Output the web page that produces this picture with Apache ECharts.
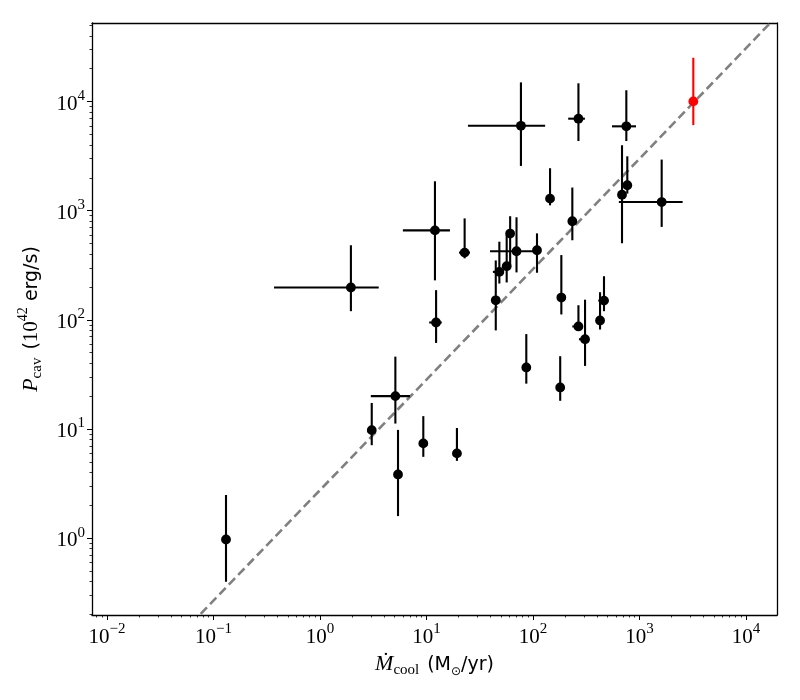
<!DOCTYPE html>
<html>
<head>
<meta charset="utf-8">
<script src="https://cdn.jsdelivr.net/npm/echarts@6/dist/echarts.min.js"></script>
<style>html,body{margin:0;padding:0;background:#fff}#c{width:800px;height:700px}</style>
</head>
<body>
<div id="c"></div>
<script>
// Cooling rate (Msun/yr) with lower/upper error limits
const mdot   = [0.131, 1.95, 3.06, 5.1, 5.4, 9.33, 19.3, 12.0, 12.3, 22.8, 77, 44.7, 48.3, 56.6, 61, 70, 109, 86.5, 144.5, 184.5, 180, 234, 267, 267, 308, 426, 464, 685, 768, 752, 1615, 3200];
const mdotLo = [0.131, 0.37, 2.85, 3.0, 5.4, 9.33, 19.3, 6.0, 10.6, 20.2, 24.5, 44.7, 42, 56.6, 61, 39.5, 109, 86.5, 144.5, 184.5, 180, 234, 214, 234, 270, 426, 410, 685, 768, 552, 640, 3200];
const mdotHi = [0.131, 3.56, 3.3, 7.0, 5.4, 9.33, 19.3, 16.6, 13.9, 25.6, 130, 44.7, 52, 56.6, 61, 119, 109, 86.5, 144.5, 184.5, 180, 234, 307, 285, 326, 426, 510, 685, 768, 927, 2540, 3200];
// Cavity power (1e42 erg/s) with lower/upper error limits
const pcav   = [0.97, 198, 9.75, 20, 3.83, 7.37, 5.97, 660, 94.5, 413, 6000, 151, 275, 310, 617, 425, 434, 36.6, 1290, 160, 24, 800, 6970, 86.9, 66.4, 98.6, 150, 1400, 1710, 5930, 1200, 10040];
const pcavLo = [0.398, 120, 7.1, 11.2, 1.59, 5.55, 5.1, 230, 61.4, 366, 2570, 80, 215, 220, 316, 272, 270, 26, 1120, 112, 18.1, 536, 4350, 80, 37.8, 81.5, 120, 503, 1435, 4350, 710, 6090];
const pcavHi = [2.48, 482, 17.3, 46, 9.8, 13.1, 10.2, 1860, 187, 850, 15000, 350, 520, 600, 890, 870, 620, 74, 2450, 392, 46.4, 1630, 14700, 136, 153, 179, 251, 3980, 3150, 12700, 2940, 25200];
const highlight = [0,0,0,0,0,0,0,0,0,0,0,0,0,0,0,0,0,0,0,0,0,0,0,0,0,0,0,0,0,0,0,1];
// relation line endpoints
const relX = [0.01, 30000];
const relY = [0.026, 93800];
// tick values
const xMajor = [0.01, 0.1, 1, 10, 100, 1000, 10000];
const yMajor = [1, 10, 100, 1000, 10000];

function minors(lo, hi) {
  const out = [];
  for (let k = -4; k <= 5; k++) for (let m = 2; m <= 9; m++) {
    const v = m * Math.pow(10, k);
    if (v > lo && v < hi) out.push(v);
  }
  return out;
}
const XMIN = Math.pow(10, -2.141), XMAX = Math.pow(10, 4.291);
const YMIN = Math.pow(10, -0.705), YMAX = Math.pow(10, 4.72);

const serif = 'Liberation Serif';
const sans = 'DejaVu Sans';
function powLabel(v) {
  const e = Math.round(Math.log10(v));
  return '{b|10}{s|' + (e < 0 ? '\u2212' + (-e) : e) + '}';
}
const labelRich = {
  b: {fontFamily: serif, fontSize: 21, color: '#000', lineHeight: 26, verticalAlign: 'bottom'},
  s: {fontFamily: serif, fontSize: 15, color: '#000', lineHeight: 14, verticalAlign: 'top'}
};

const pts = mdot.map((v, i) => [v, pcav[i], mdotLo[i], mdotHi[i], pcavLo[i], pcavHi[i], highlight[i]]);

const chart = echarts.init(document.getElementById('c'), null, {renderer: 'canvas'});
chart.setOption({
  animation: false,
  grid: {left: 92, top: 23, width: 685, height: 592, containLabel: false},
  xAxis: [
    {
      type: 'log', min: XMIN, max: XMAX, position: 'bottom',
      axisLine: {show: true, onZero: false, lineStyle: {color: '#000', width: 1.3}},
      axisTick: {show: true, inside: false, length: 5, lineStyle: {color: '#000', width: 1}, customValues: xMajor},
      axisLabel: {show: true, margin: 7, customValues: xMajor, formatter: powLabel, rich: labelRich},
      splitLine: {show: false},
      name: '{m|\u1E40}{c|cool}{p|(M}{o|\u2299}{p|/yr)}',
      nameLocation: 'middle', nameGap: 32,
      nameTextStyle: {
        rich: {
          m: {fontFamily: serif, fontStyle: 'italic', fontSize: 22, color: '#000', lineHeight: 26, verticalAlign: 'bottom'},
          c: {fontFamily: serif, fontSize: 15, color: '#000', lineHeight: 20, verticalAlign: 'bottom', padding: [0, 8, -3, 0]},
          p: {fontFamily: sans, fontSize: 19, color: '#000', lineHeight: 26, verticalAlign: 'bottom'},
          o: {fontFamily: sans, fontSize: 12, color: '#000', lineHeight: 20, verticalAlign: 'bottom', padding: [0, 0, -3, 0]}
        }
      }
    },
    {
      type: 'log', min: XMIN, max: XMAX, position: 'bottom',
      axisLine: {show: false},
      axisTick: {show: true, inside: false, length: 2.5, lineStyle: {color: '#000', width: 0.8}, customValues: minors(XMIN, XMAX)},
      axisLabel: {show: false},
      splitLine: {show: false}
    },
    {
      type: 'log', min: XMIN, max: XMAX, position: 'top',
      axisLine: {show: true, onZero: false, lineStyle: {color: '#000', width: 1.3}},
      axisTick: {show: false}, axisLabel: {show: false}, splitLine: {show: false}
    }
  ],
  yAxis: [
    {
      type: 'log', min: YMIN, max: YMAX, position: 'left',
      axisLine: {show: true, onZero: false, lineStyle: {color: '#000', width: 1.3}},
      axisTick: {show: true, inside: false, length: 5, lineStyle: {color: '#000', width: 1}, customValues: yMajor},
      axisLabel: {show: true, margin: 7, customValues: yMajor, formatter: powLabel, rich: labelRich},
      splitLine: {show: false},
      name: '{m|P}{c|cav}{p|(}{n|10}{e|42}{p| erg/s)}',
      nameLocation: 'middle', nameGap: 50, nameRotate: 90,
      nameTextStyle: {
        rich: {
          m: {fontFamily: serif, fontStyle: 'italic', fontSize: 22, color: '#000', lineHeight: 26, verticalAlign: 'bottom'},
          c: {fontFamily: serif, fontSize: 15, color: '#000', lineHeight: 20, verticalAlign: 'bottom', padding: [0, 8, -3, 0]},
          p: {fontFamily: sans, fontSize: 19, color: '#000', lineHeight: 26, verticalAlign: 'bottom'},
          n: {fontFamily: serif, fontSize: 21, color: '#000', lineHeight: 26, verticalAlign: 'bottom'},
          e: {fontFamily: serif, fontSize: 14, color: '#000', lineHeight: 14, verticalAlign: 'top'}
        }
      }
    },
    {
      type: 'log', min: YMIN, max: YMAX, position: 'left',
      axisLine: {show: false},
      axisTick: {show: true, inside: false, length: 2.5, lineStyle: {color: '#000', width: 0.8}, customValues: minors(YMIN, YMAX)},
      axisLabel: {show: false},
      splitLine: {show: false}
    },
    {
      type: 'log', min: YMIN, max: YMAX, position: 'right',
      axisLine: {show: true, onZero: false, lineStyle: {color: '#000', width: 1.3}},
      axisTick: {show: false}, axisLabel: {show: false}, splitLine: {show: false}
    }
  ],
  series: [
    {
      type: 'line', xAxisIndex: 0, yAxisIndex: 0,
      data: relX.map((v, i) => [v, relY[i]]),
      symbol: 'none', clip: true, z: 1,
      lineStyle: {color: '#808080', width: 2.6, type: [9, 4.5]}
    },
    {
      type: 'custom', xAxisIndex: 0, yAxisIndex: 0, clip: true, z: 3,
      data: pts,
      encode: {x: 0, y: 1},
      renderItem: function (params, api) {
        const x = api.value(0), y = api.value(1);
        const xl = api.value(2), xh = api.value(3), yl = api.value(4), yh = api.value(5);
        const col = api.value(6) ? '#ff0000' : '#000000';
        const c = api.coord([x, y]);
        const children = [];
        const ls = {stroke: col, lineWidth: 2.1};
        if (xl !== xh) {
          const a = api.coord([xl, y]), b = api.coord([xh, y]);
          children.push({type: 'line', shape: {x1: a[0], y1: a[1], x2: b[0], y2: b[1]}, style: ls});
        }
        if (yl !== yh) {
          const a = api.coord([x, yl]), b = api.coord([x, yh]);
          children.push({type: 'line', shape: {x1: a[0], y1: a[1], x2: b[0], y2: b[1]}, style: ls});
        }
        children.push({type: 'circle', shape: {cx: c[0], cy: c[1], r: 4.9}, style: {fill: col}});
        return {type: 'group', children: children};
      }
    }
  ]
});
</script>
</body>
</html>
